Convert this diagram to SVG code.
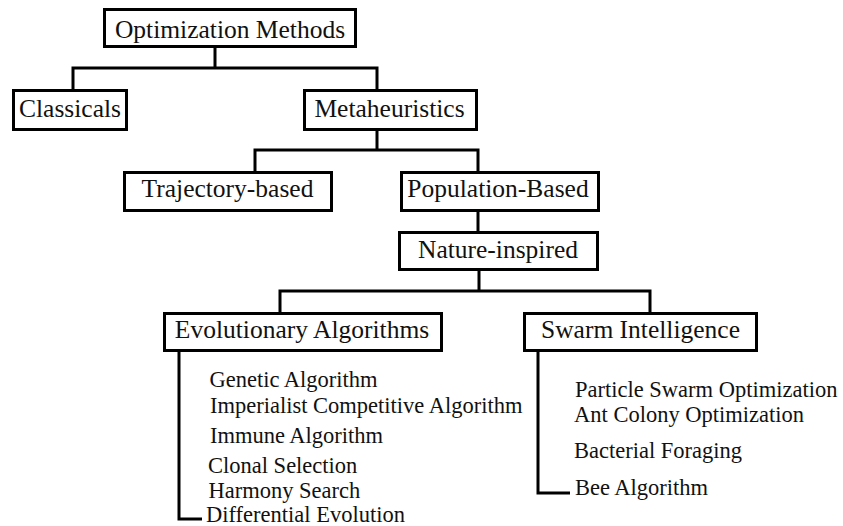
<svg xmlns="http://www.w3.org/2000/svg" width="843" height="526" viewBox="0 0 843 526">
<style>
.box{fill:#fff;stroke:#000;stroke-width:3}
.lbl{font-size:25.5px;fill:#111;text-anchor:middle}
.item{font-size:22.5px;fill:#111}
.conn{fill:none;stroke:#000;stroke-width:3}
</style>
<rect width="843" height="526" fill="#fff"/>
<g id="connectors">
<path class="conn" d="M215 48 V68 M73 90 V68 H377 V90"/>
<path class="conn" d="M377 130 V150 M255 172 V150 H478 V172"/>
<path class="conn" d="M478 211 V232"/>
<path class="conn" d="M479 270 V291 M280 313 V291 H650 V313"/>
<path class="conn" d="M179 351 V519 H202"/>
<path class="conn" d="M538 351 V493 H570"/>
</g>
<g font-family="Liberation Serif, Tinos, Times New Roman, Times, Nimbus Roman, serif">
<g id="optimization-methods">
<rect class="box" x="104.5" y="9.5" width="251" height="37"/>
<text class="lbl" x="230" y="37.5">Optimization Methods</text>
</g>
<g id="classicals">
<rect class="box" x="13.5" y="90.5" width="113" height="39"/>
<text class="lbl" x="70" y="117">Classicals</text>
</g>
<g id="metaheuristics">
<rect class="box" x="304.5" y="90.5" width="172" height="39"/>
<text class="lbl" x="389.5" y="117">Metaheuristics</text>
</g>
<g id="trajectory-based">
<rect class="box" x="124.5" y="172.5" width="207" height="38"/>
<text class="lbl" x="227.5" y="197">Trajectory-based</text>
</g>
<g id="population-based">
<rect class="box" x="401.5" y="172.5" width="197" height="38"/>
<text class="lbl" x="498" y="197">Population-Based</text>
</g>
<g id="nature-inspired">
<rect class="box" x="399.5" y="232.5" width="198" height="37"/>
<text class="lbl" x="498" y="258">Nature-inspired</text>
</g>
<g id="evolutionary-algorithms">
<rect class="box" x="164.5" y="313.5" width="277" height="37"/>
<text class="lbl" x="302" y="338">Evolutionary Algorithms</text>
<text class="item" x="209.5" y="386.5">Genetic Algorithm</text>
<text class="item" x="210" y="413">Imperialist Competitive Algorithm</text>
<text class="item" x="210" y="443">Immune Algorithm</text>
<text class="item" x="208" y="472.5">Clonal Selection</text>
<text class="item" x="208.5" y="498">Harmony Search</text>
<text class="item" x="206" y="522">Differential Evolution</text>
</g>
<g id="swarm-intelligence">
<rect class="box" x="524.5" y="313.5" width="232" height="37"/>
<text class="lbl" x="640.5" y="338">Swarm Intelligence</text>
<text class="item" x="575" y="396.5">Particle Swarm Optimization</text>
<text class="item" x="574" y="421.5">Ant Colony Optimization</text>
<text class="item" x="574" y="458">Bacterial Foraging</text>
<text class="item" x="575" y="495">Bee Algorithm</text>
</g>
</g>
</svg>
